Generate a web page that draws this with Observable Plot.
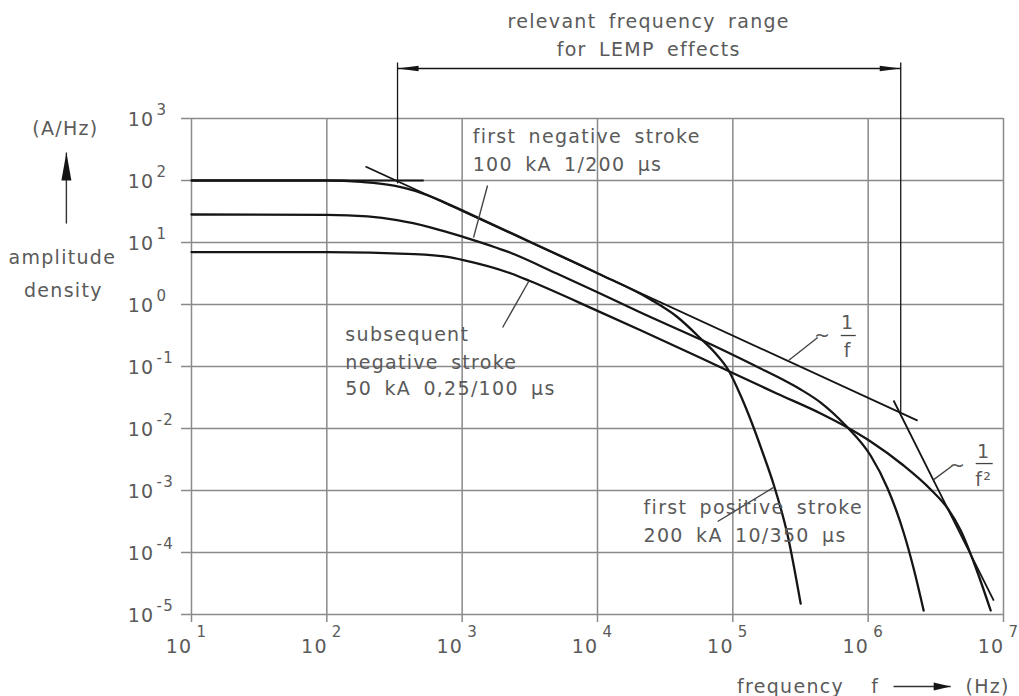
<!DOCTYPE html>
<html><head><meta charset="utf-8">
<script src="https://cdn.jsdelivr.net/npm/d3@7"></script>
<script src="https://cdn.jsdelivr.net/npm/@observablehq/plot@0.6"></script>
<style>
html,body{margin:0;padding:0;background:#fff;}
#chart svg text{letter-spacing:1.3px;word-spacing:5px;}
</style>
</head><body><div id="chart"></div>
<script>
// ---- axes ----
const xTicks = [1e1, 1e2, 1e3, 1e4, 1e5, 1e6, 1e7];
const xExps = ["1", "2", "3", "4", "5", "6", "7"];
const yTicks = [1e-5, 1e-4, 1e-3, 1e-2, 1e-1, 1e0, 1e1, 1e2, 1e3];
const yExps = ["-5", "-4", "-3", "-2", "-1", "0", "1", "2", "3"];

// ---- curves (frequency Hz, amplitude density A/Hz) ----
// first positive stroke 200 kA 10/350 µs
const posF = [1e1, 1e2, 1.8e2, 3.2e2, 4.5e2, 7e2, 1e3, 3.2e3, 1e4, 24660, 38460, 57810, 74640, 93110, 114200, 137800, 166100, 200300, 254300, 317100];
const posA = [100, 100, 95, 82, 68, 47, 33, 10.2, 3.2, 1.205, 0.64, 0.283, 0.162, 0.0861, 0.034, 0.0125, 4.1e-3, 1.25e-3, 1.88e-4, 1.5e-5];
// first negative stroke 100 kA 1/200 µs
const negF = [1e1, 1e2, 2e2, 3.3e2, 5.9e2, 1.02e3, 2.3e3, 5e3, 1e4, 20800, 57810, 160300, 225500, 317100, 445700, 682000, 1.042e6, 1.393e6, 1.828e6, 2.168e6, 2.57e6];
const negA = [28.3, 28, 26.3, 22.9, 17.4, 12.3, 6.76, 3.16, 1.58, 0.743, 0.272, 0.0929, 0.064, 0.0426, 0.0262, 0.01117, 3.67e-3, 1.08e-3, 2.1e-4, 5.52e-5, 1.16e-5];
// subsequent negative stroke 50 kA 0,25/100 µs
const subF = [1e1, 1e2, 4.4e2, 7.8e2, 1.02e3, 2.3e3, 3.2e3, 1e4, 2.1e4, 5.8e4, 211000, 445700, 682000, 1.042e6, 1.828e6, 2.897e6, 3.87e6, 4.83e6, 6.233e6, 8.04e6];
const subA = [7.0, 7.0, 6.5, 5.85, 5.2, 3.16, 2.37, 0.79, 0.38, 0.137, 0.0367, 0.01746, 0.01076, 6.17e-3, 2.53e-3, 1.04e-3, 5.13e-4, 2.26e-4, 5.73e-5, 1.16e-5];

// ---- asymptotes ----
const flatF = [10, 520], flatA = [100, 100];
const inv1F = [193, 2.32e6], inv1A = [168, 0.0134];
const inv2F = [1.54e6, 8.47e6], inv2A = [0.0283, 1.68e-5];

// ---- relevant range ----
const rangeF = [333, 1.74e6];
const rangeTopA = 8000, rangeArrowA = 6400;
const rangeBottomA = [89.5, 0.0181];

// ---- leader lines ----
const leadF1 = [1540, 1990, 77300, 2.58e5, 3.05e6];
const leadA1 = [83, 0.426, 3.16e-4, 0.125, 1.5e-3];
const leadF2 = [1213, 3100, 2.0e5, 4.24e5, 4.21e6];
const leadA2 = [12, 2.35, 1.12e-3, 0.294, 2.53e-3];

// ---- annotations ----
const annoText = ["first negative stroke", "100 kA 1/200 µs", "subsequent", "negative stroke", "50 kA 0,25/100 µs", "first positive stroke", "200 kA 10/350 µs"];
const annoF = [1195, 1195, 137, 137, 137, 21900, 21900];
const annoA = [513, 181, 0.328, 0.116, 0.0442, 5.32e-4, 1.88e-4];

const titleText = ["relevant frequency range", "for LEMP effects"];
const titleF = [23900, 23900];
const titleA = [36700, 12970];

const yLabText = ["(A/Hz)", "amplitude", "density"];
const yLabF = [1.17, 1.11, 1.13];
const yLabA = [690, 5.73, 1.68];
const yArrowF = 1.19, yArrowA = [20.2, 283];

const xLabText = ["frequency", "f", "(Hz)"];
const xLabF = [2.67e5, 1.13e6, 7.64e6];
const xLabA = 6.9e-7;
const xArrowF = [1.54e6, 4.07e6];

// fractions ~1/f and ~1/f²
const fracText = ["~", "1", "f", "~", "1", "f²"];
const fracF = [4.61e5, 7.06e5, 7.06e5, 4.58e6, 7.14e6, 7.14e6];
const fracA = [0.316, 0.513, 0.181, 2.53e-3, 4.26e-3, 1.5e-3];
const barF1 = [6.27e5, 6.23e6], barF2 = [8.1e5, 8.32e6], barA = [0.316, 2.72e-3];

// ---- build tables ----
const curves = [
  ...posF.map((f, i) => ({s: "pos", f, A: posA[i]})),
  ...negF.map((f, i) => ({s: "neg", f, A: negA[i]})),
  ...subF.map((f, i) => ({s: "sub", f, A: subA[i]}))
];
const asym = [
  {x1: flatF[0], y1: flatA[0], x2: flatF[1], y2: flatA[1]},
  {x1: inv1F[0], y1: inv1A[0], x2: inv1F[1], y2: inv1A[1]},
  {x1: inv2F[0], y1: inv2A[0], x2: inv2F[1], y2: inv2A[1]}
];
const rangeLines = [
  {x1: rangeF[0], y1: rangeTopA, x2: rangeF[0], y2: rangeBottomA[0]},
  {x1: rangeF[1], y1: rangeTopA, x2: rangeF[1], y2: rangeBottomA[1]},
  {x1: rangeF[0], y1: rangeArrowA, x2: rangeF[1], y2: rangeArrowA}
];
const leaders = leadF1.map((f, i) => ({x1: f, y1: leadA1[i], x2: leadF2[i], y2: leadA2[i]}));
const bars = barA.map((a, i) => ({x1: barF1[i], x2: barF2[i], y: a}));
const annos = annoText.map((t, i) => ({t, f: annoF[i], A: annoA[i]}));
const titles = titleText.map((t, i) => ({t, f: titleF[i], A: titleA[i]}));
const ylabs = yLabText.map((t, i) => ({t, f: yLabF[i], A: yLabA[i]}));
const xlabs = xLabText.map((t, i) => ({t, f: xLabF[i], A: xLabA}));
const fracs = fracText.map((t, i) => ({t, f: fracF[i], A: fracA[i]}));

// arrowhead symbols
const headLeft = {draw(c) { c.moveTo(0, 0); c.lineTo(21, -2.8); c.lineTo(21, 2.8); c.closePath(); }};
const headRight = {draw(c) { c.moveTo(0, 0); c.lineTo(-21, -2.8); c.lineTo(-21, 2.8); c.closePath(); }};
const headUp = {draw(c) { c.moveTo(0, 0); c.lineTo(-5, 28); c.lineTo(5, 28); c.closePath(); }};
const headRight2 = {draw(c) { c.moveTo(0, 0); c.lineTo(-17, -4); c.lineTo(-17, 4); c.closePath(); }};

const gridColor = "#8a8a8a";
const textColor = "#5a5a5a";
const ink = "#151515";

const chart = Plot.plot({
  width: 1019,
  height: 696,
  marginLeft: 191,
  marginRight: 16,
  marginTop: 118,
  marginBottom: 82,
  style: {fontFamily: "DejaVu Sans", fontSize: "19px", color: textColor, background: "#fff"},
  x: {type: "log", domain: [1e1, 1e7], label: null},
  y: {type: "log", domain: [1e-5, 1e3], label: null},
  marks: [
    Plot.gridX(xTicks, {stroke: gridColor, strokeOpacity: 1, strokeWidth: 1.5}),
    Plot.gridY(yTicks, {stroke: gridColor, strokeOpacity: 1, strokeWidth: 1.5}),
    Plot.axisX(xTicks, {tickSize: 8, stroke: gridColor, strokeWidth: 1.5, tickFormat: () => "", label: null}),
    Plot.axisY(yTicks, {tickSize: 10, stroke: gridColor, strokeWidth: 1.5, tickFormat: () => "", label: null}),
    // tick labels
    Plot.text(xTicks, {x: d => d, frameAnchor: "bottom", lineAnchor: "middle", text: () => "10", textAnchor: "end", dy: 32, dx: 1, fill: textColor, fontSize: 19}),
    Plot.text(xTicks, {x: d => d, frameAnchor: "bottom", lineAnchor: "middle", text: (d, i) => xExps[i], textAnchor: "start", dy: 18, dx: 5, fill: textColor, fontSize: 15}),
    Plot.text(yTicks, {y: d => d, frameAnchor: "left", lineAnchor: "middle", text: () => "10", textAnchor: "end", dx: -37, dy: 1, fill: textColor, fontSize: 19}),
    Plot.text(yTicks, {y: d => d, frameAnchor: "left", lineAnchor: "middle", text: (d, i) => yExps[i], textAnchor: "start", dx: -35, dy: -8, fill: textColor, fontSize: 15}),
    // range
    Plot.link(rangeLines, {x1: "x1", y1: "y1", x2: "x2", y2: "y2", stroke: ink, strokeWidth: 1.3}),
    Plot.dot([rangeF[0]], {x: d => d, y: () => rangeArrowA, symbol: headLeft, fill: ink, stroke: "none"}),
    Plot.dot([rangeF[1]], {x: d => d, y: () => rangeArrowA, symbol: headRight, fill: ink, stroke: "none"}),
    // asymptotes
    Plot.link(asym, {x1: "x1", y1: "y1", x2: "x2", y2: "y2", stroke: ink, strokeWidth: 1.8}),
    // curves
    Plot.line(curves, {x: "f", y: "A", z: "s", stroke: ink, strokeWidth: 2.3, curve: "monotone-x"}),
    // leaders
    Plot.link(leaders, {x1: "x1", y1: "y1", x2: "x2", y2: "y2", stroke: "#444", strokeWidth: 1.4}),
    Plot.link(bars, {x1: "x1", y1: "y", x2: "x2", y2: "y", stroke: "#444", strokeWidth: 1.3}),
    // annotation texts
    Plot.text(annos, {x: "f", y: "A", text: "t", textAnchor: "start", fill: textColor, fontSize: 19}),
    Plot.text(fracs, {x: "f", y: "A", text: "t", textAnchor: "middle", fill: textColor, fontSize: 19}),
    Plot.text(titles, {x: "f", y: "A", text: "t", textAnchor: "middle", fill: textColor, fontSize: 19}),
    Plot.text(ylabs, {x: "f", y: "A", text: "t", textAnchor: "middle", fill: textColor, fontSize: 19}),
    Plot.text(xlabs, {x: "f", y: "A", text: "t", textAnchor: "middle", fill: textColor, fontSize: 19}),
    // axis-label arrows
    Plot.link([yArrowF], {x1: d => d, x2: d => d, y1: () => yArrowA[0], y2: () => yArrowA[1], stroke: "#333", strokeWidth: 1.4}),
    Plot.dot([yArrowF], {x: d => d, y: () => yArrowA[1], symbol: headUp, fill: ink, stroke: "none"}),
    Plot.link([xArrowF], {x1: d => d[0], x2: d => d[1], y1: () => xLabA, y2: () => xLabA, stroke: "#333", strokeWidth: 1.4}),
    Plot.dot([xArrowF[1]], {x: d => d, y: () => xLabA, symbol: headRight2, fill: ink, stroke: "none"})
  ]
});
document.getElementById("chart").appendChild(chart);
</script></body></html>
